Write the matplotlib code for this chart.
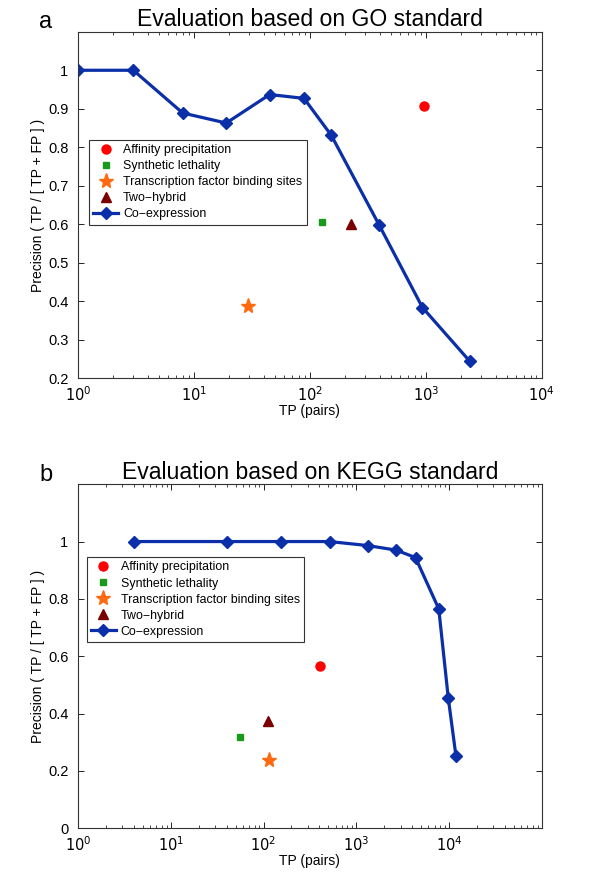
import matplotlib
matplotlib.use('Agg')
import matplotlib.pyplot as plt
from matplotlib.ticker import LogLocator, NullFormatter, FixedLocator, FixedFormatter

plt.rcParams['font.family'] = ['Liberation Sans', 'DejaVu Sans']

# panel a: GO standard
go_coexp_x = [1, 3, 8, 19, 45, 89, 153, 396, 935, 2400]
go_coexp_y = [1.0, 1.0, 0.889, 0.863, 0.937, 0.927, 0.831, 0.598, 0.384, 0.244]
go_affinity = (964, 0.906)
go_synthetic = (126, 0.605)
go_tfbs = (29, 0.387)
go_twohybrid = (228, 0.60)

# panel b: KEGG standard
kegg_coexp_x = [4, 40.6, 156, 515, 1330, 2700, 4350, 7750, 9820, 11860]
kegg_coexp_y = [1.0, 1.0, 1.0, 1.0, 0.986, 0.970, 0.944, 0.765, 0.453, 0.253]
kegg_affinity = (410, 0.567)
kegg_synthetic = (55.6, 0.319)
kegg_tfbs = (116, 0.239)
kegg_twohybrid = (112, 0.373)

labels = ['Affinity precipitation', 'Synthetic lethality',
          'Transcription factor binding sites', 'Two\u2212hybrid', 'Co\u2212expression']

blue = '#0b2fa8'


def draw(ax, aff, syn, tfbs, two, cx, cy, title, letter, xlim, ylim, yticks, ylabels, legpos):
    ax.plot([aff[0]], [aff[1]], 'o', color='#ff0000', ms=6.5, ls='none', label=labels[0])
    ax.plot([syn[0]], [syn[1]], 's', color='#1a9a1a', ms=5, ls='none', label=labels[1])
    ax.plot([tfbs[0]], [tfbs[1]], '*', color='#ff6a10', ms=11, ls='none', label=labels[2])
    ax.plot([two[0]], [two[1]], '^', color='#7a0000', ms=7.5, ls='none', label=labels[3])
    ax.plot(cx, cy, '-D', color=blue, lw=2.3, ms=6, label=labels[4])
    ax.set_xscale('log')
    ax.set_xlim(*xlim)
    ax.set_ylim(*ylim)
    ax.xaxis.set_major_locator(FixedLocator([1, 10, 100, 1000, 10000]))
    ax.xaxis.set_major_formatter(FixedFormatter([r'$10^{0}$', r'$10^{1}$', r'$10^{2}$',
                                                 r'$10^{3}$', r'$10^{4}$']))
    ax.xaxis.set_minor_locator(LogLocator(base=10, subs=range(2, 10), numticks=20))
    ax.xaxis.set_minor_formatter(NullFormatter())
    ax.set_yticks(yticks)
    ax.set_yticklabels(ylabels)
    ax.tick_params(direction='in', top=True, right=True, labelsize=10.5, length=4, width=0.6)
    ax.tick_params(axis='y', pad=7)
    ax.tick_params(axis='x', pad=5)
    ax.tick_params(which='minor', direction='in', top=True, length=2.5, width=0.5)
    for s in ax.spines.values():
        s.set_linewidth(0.8)
        s.set_color('#333333')
    ax.set_xlabel('TP (pairs)', fontsize=10, labelpad=0)
    ax.set_ylabel('Precision ( TP / [ TP + FP ] )', fontsize=10, labelpad=2)
    ax.set_title(title, fontsize=16.6, pad=4)
    ax.text(-0.069, 1.028, letter, transform=ax.transAxes, fontsize=17, ha='center', va='center')
    leg = ax.legend(loc='upper left', bbox_to_anchor=legpos, fontsize=8.9, frameon=True,
                    fancybox=False, edgecolor='#333333', framealpha=1, handlelength=2.0,
                    borderpad=0.35, labelspacing=0.33, handletextpad=0.4, borderaxespad=0)
    leg.get_frame().set_linewidth(0.8)


fig = plt.figure(figsize=(6, 8.82), dpi=100)
ax1 = fig.add_axes([0.13, 0.571, 0.773, 0.393])
ax2 = fig.add_axes([0.13, 0.061, 0.773, 0.390])

draw(ax1, go_affinity, go_synthetic, go_tfbs, go_twohybrid, go_coexp_x, go_coexp_y,
     'Evaluation based on GO standard', 'a', (1, 1e4), (0.2, 1.1),
     [0.2, 0.3, 0.4, 0.5, 0.6, 0.7, 0.8, 0.9, 1.0],
     ['0.2', '0.3', '0.4', '0.5', '0.6', '0.7', '0.8', '0.9', '1'], (0.024, 0.689))
draw(ax2, kegg_affinity, kegg_synthetic, kegg_tfbs, kegg_twohybrid, kegg_coexp_x, kegg_coexp_y,
     'Evaluation based on KEGG standard', 'b', (1, 1e5), (0, 1.2),
     [0, 0.2, 0.4, 0.6, 0.8, 1.0], ['0', '0.2', '0.4', '0.6', '0.8', '1'], (0.019, 0.788))

fig.savefig('out.png', dpi=100)
